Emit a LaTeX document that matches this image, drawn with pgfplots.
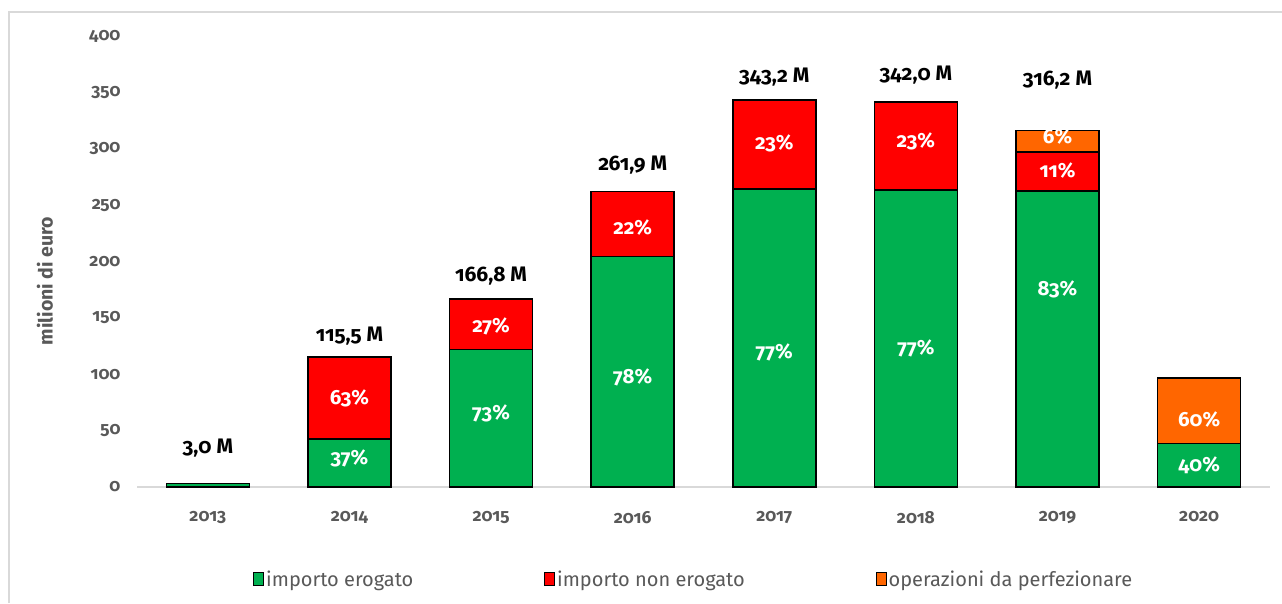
\documentclass[border=0pt]{standalone}
\usepackage{fontspec}
\setmainfont{Fira Sans}[Numbers=OldStyle]
\usepackage{pgfplots}
\pgfplotsset{compat=1.18}
\definecolor{cgreen}{HTML}{00B050}
\definecolor{cred}{HTML}{FF0000}
\definecolor{corange}{HTML}{FF6600}
\definecolor{txtgray}{HTML}{595959}
\definecolor{axgray}{HTML}{D9D9D9}
\tikzset{tot/.style={font=\fontsize{21}{24}\selectfont\bfseries, text=black},
         pct/.style={font=\fontsize{20.5}{24}\selectfont\bfseries, text=white}}
\begin{document}
\begin{tikzpicture}
\draw[axgray, line width=1.2pt] (9pt,0pt) -- (9pt,591pt) -- (1282pt,591pt);
\node[rotate=90, font=\fontsize{19.5}{22}\selectfont\bfseries, text=txtgray] at (45pt,322pt) {milioni di euro};
\begin{axis}[
  at={(137pt,116pt)}, anchor=south west,
  scale only axis, width=1133pt, height=451pt,
  xmin=-0.5, xmax=7.5, ymin=0, ymax=400,
  ybar stacked, bar width=83pt,
  xtick={0,1,2,3,4,5,6,7},
  xticklabels={2013,2014,2015,2016,2017,2018,2019,2020},
  ytick={0,50,100,150,200,250,300,350,400},
  /pgf/number format/assume math mode=true,
  axis x line*=bottom, axis y line*=left,
  axis line style={-},
  x axis line style={axgray, line width=1.5pt},
  y axis line style={draw=none},
  major tick length=0pt,
  tick label style={font=\fontsize{17.5}{20}\selectfont\bfseries, text=txtgray},
  yticklabel style={xshift=-13pt},
  xticklabel style={yshift=-21pt},
  legend columns=3,
  legend style={at={(0.4915,-0.204)}, anchor=center, draw=none,
    font=\fontsize{20}{23}\selectfont, text=txtgray,
    /tikz/every even column/.append style={column sep=129pt}},
  legend image code/.code={\draw[#1, draw=black, line width=0.8pt] (0pt,-6.5pt) rectangle (10pt,6.5pt);},
]
\addplot[fill=cgreen, draw=black, line width=1.5pt] coordinates {(0,3.0) (1,42.7) (2,121.8) (3,204.3) (4,264.3) (5,263.3) (6,262.4) (7,38.7)};
\addplot[fill=cred, draw=black, line width=1.5pt] coordinates {(0,0) (1,72.8) (2,45.0) (3,57.6) (4,78.9) (5,78.3) (6,34.8) (7,0)};
\addplot[fill=corange, draw=black, line width=1.5pt] coordinates {(0,0) (1,0) (2,0) (3,0) (4,0) (5,0.4) (6,19.0) (7,58.0)};
\legend{importo erogato, importo non erogato, operazioni da perfezionare}
\node[tot] at (axis cs:0,34.6) {3,0 M};
\node[tot] at (axis cs:1,134) {115,5 M};
\node[tot] at (axis cs:2,187) {166,8 M};
\node[tot] at (axis cs:3,285.6) {261,9 M};
\node[tot] at (axis cs:4,363.6) {343,2 M};
\node[tot] at (axis cs:5,365.4) {342,0 M};
\node[tot] at (axis cs:6,361) {316,2 M};
\coordinate (a1) at (axis cs:1,25.7);
\coordinate (a2) at (axis cs:1,79);
\coordinate (a3) at (axis cs:2,65.6);
\coordinate (a4) at (axis cs:2,142.8);
\coordinate (a5) at (axis cs:3,97.6);
\coordinate (a6) at (axis cs:3,229.7);
\coordinate (a7) at (axis cs:4,119.7);
\coordinate (a8) at (axis cs:4,305);
\coordinate (a9) at (axis cs:5,123.3);
\coordinate (a10) at (axis cs:5,306.9);
\coordinate (a11) at (axis cs:6,175.6);
\coordinate (a12) at (axis cs:6,280.3);
\coordinate (a13) at (axis cs:6,310.4);
\coordinate (a14) at (axis cs:7,19.5);
\coordinate (a15) at (axis cs:7,59.4);
\end{axis}
\node[pct] at (a1) {37\%};
\node[pct] at (a2) {63\%};
\node[pct] at (a3) {73\%};
\node[pct] at (a4) {27\%};
\node[pct] at (a5) {78\%};
\node[pct] at (a6) {22\%};
\node[pct] at (a7) {77\%};
\node[pct] at (a8) {23\%};
\node[pct] at (a9) {77\%};
\node[pct] at (a10) {23\%};
\node[pct] at (a11) {83\%};
\node[pct] at (a12) {11\%};
\node[pct] at (a13) {6\%};
\node[pct] at (a14) {40\%};
\node[pct] at (a15) {60\%};
\pgfresetboundingbox
\useasboundingbox (0pt,0pt) rectangle (1282pt,603pt);
\end{tikzpicture}
\end{document}
